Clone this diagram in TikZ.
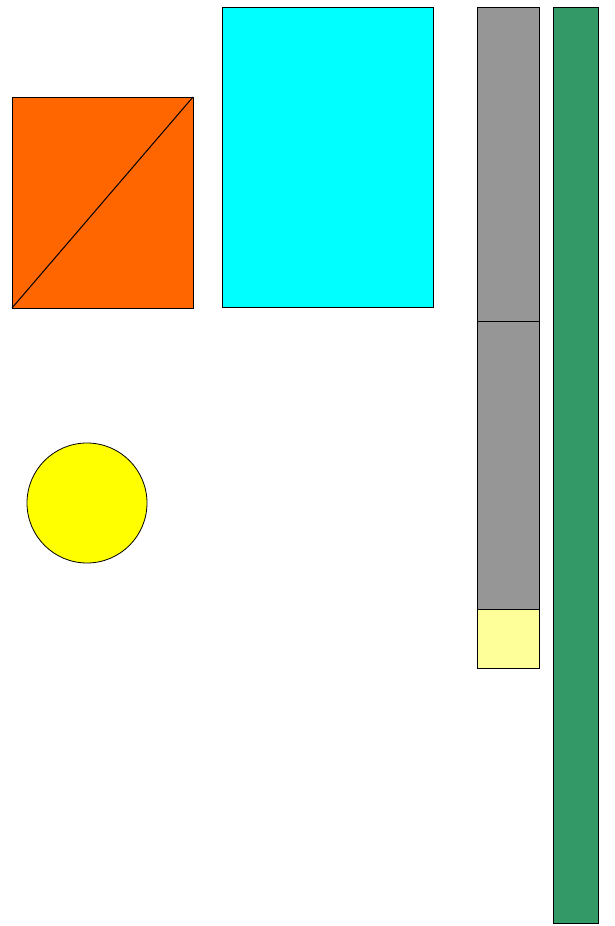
\documentclass[tikz,border=0pt]{standalone}
\usepackage{xcolor}
\definecolor{orangefill}{HTML}{FF6600}
\definecolor{cyanfill}{HTML}{00FFFF}
\definecolor{grayfill}{HTML}{969696}
\definecolor{palefill}{HTML}{FFFF99}
\definecolor{greenfill}{HTML}{339966}
\definecolor{yellowfill}{HTML}{FFFF00}

\begin{document}
\begin{tikzpicture}[
        x=1pt, y=-1pt,
        box/.style={
        rectangle, draw=black, line width=1pt,
        inner sep=0pt, outer sep=0pt},
        ]

        \useasboundingbox (0,0) rectangle (614,926);

        \node (orange) [box, fill=orangefill, minimum width=181pt, minimum height=211pt] at (102.5,202.5){};
        \node (cyan) [box, fill=cyanfill, minimum width=211pt, minimum height=300pt] at (327.5,157){};
        \node (grayup) [box, fill=grayfill, minimum width=62pt, minimum height=314pt] at (508,164){};
        \node (graylow) [box, fill=grayfill, minimum width=62pt, minimum height=288pt] at (508,465){};
        \node (pale) [box, fill=palefill, minimum width=62pt, minimum height=59pt] at (508,638.5){};
        \node (green) [box, fill=greenfill, minimum width=45pt, minimum height=916pt] at (575.5,465){};
        \node (sun) [circle, draw=black, line width=0.8pt, inner sep=0pt, fill=yellowfill, minimum size=120pt] at (87,503){};

        \draw [line width=1pt] (orange.south west) -- (orange.north east);
    \end{tikzpicture}
\end{document}
